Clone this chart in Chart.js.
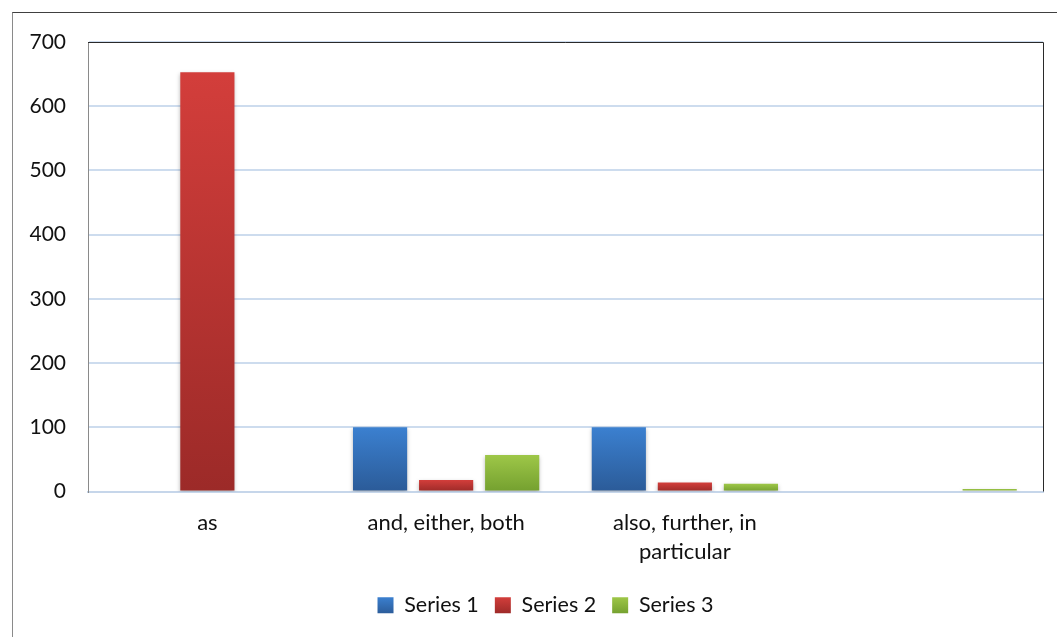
<!DOCTYPE html>
<html>
<head>
<meta charset="utf-8">
<script src="https://cdn.jsdelivr.net/npm/chart.js@4/dist/chart.umd.min.js"></script>
<style>
  html, body { margin: 0; padding: 0; background: #fff; }
  #wrap { position: relative; width: 1057px; height: 637px; overflow: hidden; }
  #frame { position: absolute; left: 12px; top: 12px; width: 1100px; height: 700px;
           border-left: 1px solid #8a8a8a; border-top: 1px solid #404040; }
  canvas { position: absolute; left: 0; top: 0; }
</style>
</head>
<body>
<div id="wrap">
  <div id="frame"></div>
  <canvas id="myChart" width="1057" height="637"></canvas>
</div>
<script>

var categories = ['as', 'and, either, both', ['also, further, in', 'particular'], ''];

var series1 = [0, 100, 100, 0];
var series2 = [653, 18, 14, 0];
var series3 = [0, 57, 12, 4];

var yTicks = [0, 100, 200, 300, 400, 500, 600, 700];

// top / bottom shade of each series
var shades = {
    s1: ['#3b80d0', '#2b5b98'],
    s2: ['#d33e3b', '#9c2a28'],
    s3: ['#9ec748', '#74a02f']
};

function barFill(pair) {
    return function (context) {
        var chart = context.chart;
        var y = chart.scales.y;
        if (!chart.chartArea || !y || context.raw === undefined) {
            return pair[1];
        }
        var top = y.getPixelForValue(context.raw);
        var bottom = y.getPixelForValue(0);
        if (!(bottom > top)) {
            return pair[0];
        }
        var g = chart.ctx.createLinearGradient(0, top, 0, bottom);
        g.addColorStop(0, pair[0]);
        g.addColorStop(1, pair[1]);
        return g;
    };
}

var barShadow = {
    id: 'barShadow',
    beforeDatasetsDraw: function (chart) {
        var ctx = chart.ctx;
        ctx.save();
        ctx.shadowColor = 'rgba(0,0,0,0.28)';
        ctx.shadowBlur = 4;
        ctx.shadowOffsetY = 2;
    },
    afterDatasetsDraw: function (chart) {
        chart.ctx.restore();
    }
};

var plotBorder = {
    id: 'plotBorder',
    afterDraw: function (chart) {
        var a = chart.chartArea;
        var ctx = chart.ctx;
        ctx.save();
        ctx.lineWidth = 1;
        ctx.strokeStyle = '#2a2a2a';
        ctx.beginPath();
        ctx.moveTo(a.left, a.top + 0.5);
        ctx.lineTo(a.right + 0.5, a.top + 0.5);
        ctx.lineTo(a.right + 0.5, a.bottom);
        ctx.stroke();
        ctx.restore();
    }
};

// legend sits centred under the plot area rather than the whole canvas
var legendShift = {
    id: 'legendShift',
    afterLayout: function (chart) {
        var lg = chart.legend;
        if (lg) {
            lg.left += 48;
        }
    }
};

var font = "Lato, 'Open Sans', sans-serif";

var ctx = document.getElementById('myChart');

var data = {
    labels: categories,
    datasets: [
        {
            label: 'Series 1',
            data: series1,
            backgroundColor: barFill(shades.s1)
        },
        {
            label: 'Series 2',
            data: series2,
            backgroundColor: barFill(shades.s2)
        },
        {
            label: 'Series 3',
            data: series3,
            backgroundColor: barFill(shades.s3)
        }
    ]
};

var options = {
    responsive: false,
    animation: false,
    events: [],
    datasets: {
        bar: {
            categoryPercentage: 0.83,
            barPercentage: 0.82
        }
    },
    layout: {
        padding: { left: 0, right: 14, top: 42, bottom: 11 }
    },
    scales: {
        x: {
            grid: { display: false, drawTicks: false },
            border: { display: true, color: '#c6d6ea', width: 2 },
            ticks: {
                color: '#111',
                padding: 16,
                maxRotation: 0,
                autoSkip: false,
                font: { family: font, size: 22, lineHeight: 1.36 }
            },
            afterFit: function (scale) { scale.height = 87; }
        },
        y: {
            min: 0,
            max: 700,
            afterBuildTicks: function (scale) {
                scale.ticks = yTicks.map(function (v) { return { value: v }; });
            },
            grid: { color: '#cddcee', lineWidth: 2, drawTicks: false },
            border: { display: true, color: '#8a8a8a', width: 1 },
            ticks: {
                color: '#111',
                padding: 22,
                font: { family: font, size: 21 }
            },
            afterFit: function (scale) { scale.width = 88; }
        }
    },
    plugins: {
        tooltip: { enabled: false },
        legend: {
            position: 'bottom',
            labels: {
                color: '#111',
                boxWidth: 16,
                boxHeight: 16,
                padding: 16,
                font: { family: font, size: 21.5 },
                generateLabels: function (chart) {
                    var pairs = [shades.s1, shades.s2, shades.s3];
                    return chart.data.datasets.map(function (ds, i) {
                        var g = chart.ctx.createLinearGradient(0, 597, 0, 614);
                        g.addColorStop(0, pairs[i][0]);
                        g.addColorStop(1, pairs[i][1]);
                        return {
                            text: ds.label,
                            fillStyle: g,
                            strokeStyle: 'rgba(0,0,0,0)',
                            lineWidth: 0,
                            fontColor: '#111',
                            datasetIndex: i,
                            hidden: false
                        };
                    });
                }
            }
        }
    }
};

var chart = new Chart(ctx, {
    type: 'bar',
    data: data,
    options: options,
    plugins: [barShadow, plotBorder, legendShift]
});
</script>
</body>
</html>
